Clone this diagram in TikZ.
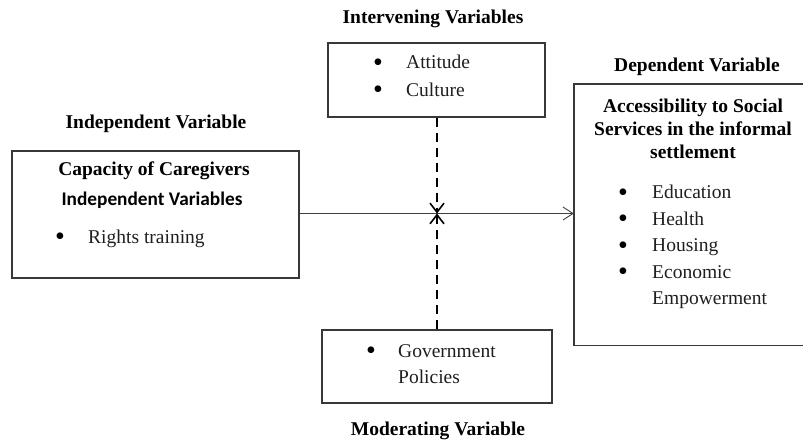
\documentclass[tikz,border=0pt]{standalone}
\usepackage{fontspec}
\setmainfont{Liberation Serif}
\newfontfamily\calib{Carlito}
\usetikzlibrary{arrows.meta}
\begin{document}
\begin{tikzpicture}[x=1pt,y=-1pt,
  boxline/.style={draw=black!78, line width=1.4pt, rectangle, inner sep=0pt},
  bodytxt/.style={inner sep=0pt, font=\fontsize{19.5}{23}\selectfont, text=black!88},
  ctext/.style={bodytxt, anchor=base},
  ltext/.style={bodytxt, anchor=base west},
  boldtxt/.style={ctext, font=\fontsize{19.5}{23}\selectfont\bfseries, text=black},
  bul/.style={ctext, font=\fontsize{28}{30}\selectfont, text=black, yshift=-2.8pt},
  conn/.style={draw=black!75, line width=0.9pt, -{Straight Barb[length=10pt,width=13pt]}},
  dashconn/.style={draw=black, line width=2.2pt, dash pattern=on 9pt off 6pt, -{Straight Barb[length=9pt,width=14pt,line width=1.6pt]}}
]
\useasboundingbox (0,0) rectangle (803,444);

% boxes
\node[boxline, minimum width=287pt, minimum height=127pt] (ind) at (155.5,214.5) {};
\node[boxline, minimum width=217pt, minimum height=74pt] (int) at (436.5,80) {};
\node[boxline, minimum width=230pt, minimum height=73pt] (mod) at (437,366.5) {};
\node[rectangle, inner sep=0pt, minimum width=229pt, minimum height=261pt] (dep) at (688.5,214.5) {};
\draw[draw=black!78, line width=1.4pt] (dep.north east) -- (dep.north west) -- (dep.south west) -- (dep.south east);

% connectors
\coordinate (meet) at (437,213.5);
\draw[conn] (meet -| ind.east) -- (meet -| dep.west);
\draw[dashconn] (int.south -| meet) -- (meet);
\draw[dashconn] (mod.north -| meet) -- (meet);

% titles
\node[boldtxt] (tind) at (156,128) {Independent Variable};
\node[boldtxt] (tint) at (433,24) {Intervening Variables};
\node[boldtxt] (tdep) at (697,72) {Dependent Variable};
\node[boldtxt] (tmod) at (438,435) {Moderating Variable};

% left box
\node[boldtxt] (cap) at (154,175) {Capacity of Caregivers};
\node[ctext, font=\fontsize{19.3}{23}\selectfont\calib\bfseries, text=black] (indv) at (152,205) {Independent Variables};
\node[bul] (b1) at (60,243) {\textbullet};
\node[ltext] (rt) at (88,243) {Rights training};

% top box
\node[bul] (b2) at (378,69) {\textbullet};
\node[ltext] (att) at (406,69) {Attitude};
\node[bul] (b3) at (378,96) {\textbullet};
\node[ltext] (cul) at (406,96) {Culture};

% bottom box
\node[bul] (b4) at (371,357) {\textbullet};
\node[ltext] (gov) at (398,357) {Government};
\node[ltext] (pol) at (398,383) {Policies};

% right box
\node[boldtxt] (acc1) at (693,112) {Accessibility to Social};
\node[boldtxt] (acc2) at (693,135) {Services in the informal};
\node[boldtxt] (acc3) at (693,158) {settlement};
\node[bul] (b5) at (623,198.5) {\textbullet};
\node[ltext] (edu) at (652,198.5) {Education};
\node[bul] (b6) at (623,225) {\textbullet};
\node[ltext] (hea) at (652,225) {Health};
\node[bul] (b7) at (623,251.5) {\textbullet};
\node[ltext] (hou) at (652,251.5) {Housing};
\node[bul] (b8) at (623,278) {\textbullet};
\node[ltext] (eco) at (652,278) {Economic};
\node[ltext] (emp) at (652,304.5) {Empowerment};
\end{tikzpicture}
\end{document}
